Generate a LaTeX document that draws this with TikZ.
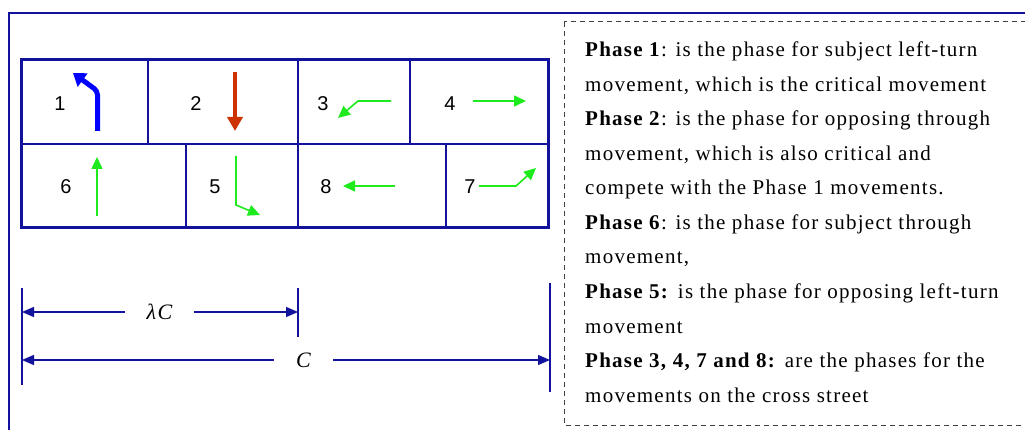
\documentclass[tikz,border=0pt]{standalone}
\usepackage{fontspec}
\setmainfont{Liberation Serif}[LetterSpace=6]
\newfontfamily\cellfont{Liberation Sans}
\usetikzlibrary{arrows.meta}
\definecolor{cNavy}{HTML}{12129C}
\definecolor{cGreen}{HTML}{1EEB1E}
\definecolor{cBlue}{HTML}{0000FF}
\definecolor{cRust}{HTML}{CC3300}

\begin{document}
\begin{tikzpicture}[x=1pt, y=-1pt,
    grid/.style={draw=cNavy, line width=1.4pt},
    gmove/.style={cGreen, line width=1.6pt, -{Triangle[length=12pt, width=11pt]}},
    dim/.style={draw=cNavy, line width=1.3pt},
    dimarr/.style={dim, -{Triangle[length=12pt, width=10pt]}},
    num/.style={font=\cellfont\fontsize{20}{24}\selectfont, inner sep=0pt},
    dimlbl/.style={font=\fontsize{22}{26}\selectfont\itshape, inner xsep=22pt, inner ysep=2pt}]
  \clip (0,0) rectangle (1025,430);

  % outer frame, runs off the page
  \draw[cNavy, line width=1.4pt] (9,440) |- (1040,13);

  % phase table
  \draw[grid] (21,144) -- (548,144);
  \foreach \x in {148,298,410} \draw[grid] (\x,60) -- (\x,144);
  \foreach \x in {186,298,446} \draw[grid] (\x,144) -- (\x,228);
  \draw[grid, line width=3pt] (21,60) rectangle (548,228);

  \foreach \n/\x/\y in {1/60/104, 2/196/104, 3/323/104, 4/450/104,
                        6/66/187, 5/215/187, 8/326/187, 7/470/187}
    \node[num] (p\n) at (\x,\y) {\n};

  % critical movements
  \draw[cBlue, line width=5pt, rounded corners=4pt, -{Triangle[length=12pt, width=16pt]}]
    (97.5,131) -- (97.5,91) -- (73,73);
  \draw[cRust, line width=4pt, -{Triangle[length=14pt, width=15pt]}] (235,72) -- (235,131);

  % other movements
  \draw[gmove] (391,101) -- (358,101) -- (338,118);
  \draw[gmove] (473,101) -- (526,101);
  \draw[gmove] (97,216) -- (97,157);
  \draw[gmove] (236,156) -- (236,205) -- (260,215);
  \draw[gmove] (395,186) -- (343,186);
  \draw[gmove] (479,186) -- (516,186) -- (536,168);

  % cycle and green split
  \draw[dim] (22,288) -- (22,385);
  \draw[dim] (298,288) -- (298,337);
  \draw[dim] (550,283) -- (550,392);
  \coordinate (gL) at (22,312);
  \coordinate (gR) at (298,312);
  \coordinate (cL) at (22,360);
  \coordinate (cR) at (550,360);
  \node[dimlbl] (lamC) at (159.5,312) {λC};
  \node[dimlbl] (cyc) at (303.5,360) {C};
  \draw[dimarr] (lamC) -- (gL);
  \draw[dimarr] (lamC) -- (gR);
  \draw[dimarr] (cyc) -- (cL);
  \draw[dimarr] (cyc) -- (cR);

  % phase notes
  \draw[black!75, line width=1pt, dash pattern=on 5pt off 4pt] (564,22) rectangle (1040,425);
  \foreach \i/\txt in {
      0/{\textbf{Phase 1}: is the phase for subject left-turn},
      1/{movement, which is the critical movement},
      2/{\textbf{Phase 2}: is the phase for opposing through},
      3/{movement, which is also critical and},
      4/{compete with the Phase 1 movements.},
      5/{\textbf{Phase 6}: is the phase for subject through},
      6/{movement,},
      7/{\textbf{Phase 5:} is the phase for opposing left-turn},
      8/{movement},
      9/{\textbf{Phase 3, 4, 7 and 8:} are the phases for the},
      10/{movements on the cross street}}
    \node[anchor=base west, inner sep=0pt, font=\fontsize{21}{24}\selectfont]
      (ln\i) at (585,57+34.5*\i) {\txt};
\end{tikzpicture}
\end{document}
